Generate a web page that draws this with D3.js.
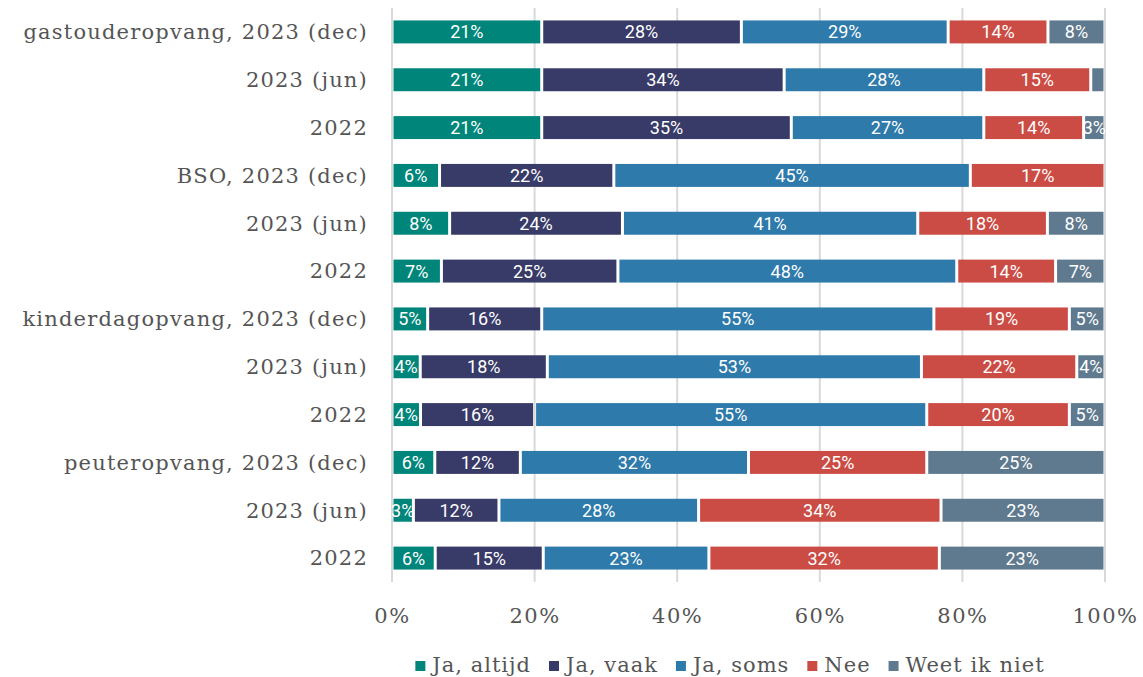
<!DOCTYPE html>
<html>
<head>
<meta charset="utf-8">
<script src="https://cdn.jsdelivr.net/npm/d3@7"></script>
<style>
  body { margin: 0; background: #fff; }
  svg { display: block; }
</style>
</head>
<body>
<div id="chart"></div>
<script>
// categorieën (van boven naar beneden)
const categories = [
  "gastouderopvang, 2023 (dec)", "2023 (jun)", "2022",
  "BSO, 2023 (dec)", "2023 (jun)", "2022",
  "kinderdagopvang, 2023 (dec)", "2023 (jun)", "2022",
  "peuteropvang, 2023 (dec)", "2023 (jun)", "2022"
];
const seriesNames = ["Ja, altijd", "Ja, vaak", "Ja, soms", "Nee", "Weet ik niet"];
const jaAltijd   = [21, 21, 21, 6, 8, 7, 5, 4, 4, 6, 3, 6];
const jaVaak     = [28, 34, 35, 22, 24, 25, 16, 18, 16, 12, 12, 15];
const jaSoms     = [29, 28, 27, 45, 41, 48, 55, 53, 55, 32, 28, 23];
const nee        = [14, 15, 14, 17, 18, 14, 19, 22, 20, 25, 34, 32];
const weetIkNiet = [8, 2, 3, 0, 8, 7, 5, 4, 5, 25, 23, 23];
const tickValues = [0, 0.2, 0.4, 0.6, 0.8, 1];
const colors = ["#00857a", "#383a68", "#2e7aab", "#cb4c44", "#5f7a8f"];

const width = 1143, height = 677;
const margin = { top: 8, left: 392, right: 38 };
const serif = "'DejaVu Serif', serif";

const rows = categories.map((c, i) => ({
  id: i, label: c,
  "Ja, altijd": jaAltijd[i], "Ja, vaak": jaVaak[i], "Ja, soms": jaSoms[i],
  "Nee": nee[i], "Weet ik niet": weetIkNiet[i]
}));

const stacked = d3.stack().keys(seriesNames).offset(d3.stackOffsetExpand)(rows);

const x = d3.scaleLinear().domain([0, 1]).range([margin.left, width - margin.right]);
const y = d3.scaleBand().domain(rows.map(d => d.id)).range([margin.top, 582]).paddingInner(0.52).paddingOuter(0.26);
const color = d3.scaleOrdinal().domain(seriesNames).range(colors);

const svg = d3.select("#chart").append("svg")
  .attr("width", width).attr("height", height);

svg.append("defs").append("clipPath").attr("id", "plotclip")
  .append("rect").attr("x", x(0)).attr("y", 0).attr("width", x(1) - x(0)).attr("height", 600);

// rasterlijnen
svg.append("g").selectAll("line").data(tickValues).join("line")
  .attr("x1", d => x(d)).attr("x2", d => x(d))
  .attr("y1", margin.top).attr("y2", 582)
  .attr("stroke", "#d9d9d9").attr("stroke-width", 2);

// balken
const layers = svg.append("g").selectAll("g").data(stacked).join("g")
  .attr("fill", d => color(d.key));

layers.selectAll("rect").data(d => d).join("rect")
  .attr("x", d => x(d[0]) + 1.5)
  .attr("y", d => y(d.data.id))
  .attr("width", d => Math.max(0, x(d[1]) - x(d[0]) - 3))
  .attr("height", y.bandwidth());

// waardelabels
const labels = svg.append("g").attr("clip-path", "url(#plotclip)");
stacked.forEach(layer => {
  labels.selectAll(null).data(layer.filter(d => d.data[layer.key] >= 3)).join("text")
    .attr("x", d => (x(d[0]) + x(d[1])) / 2)
    .attr("y", d => y(d.data.id) + y.bandwidth() / 2)
    .attr("dy", "0.36em")
    .attr("text-anchor", "middle")
    .attr("fill", "#fff")
    .style("font-family", "Roboto, sans-serif")
    .style("font-size", "18px")
    .text(d => d.data[layer.key] + "%");
});

// categorie-labels
svg.append("g").selectAll("text").data(rows).join("text")
  .attr("x", margin.left - 24)
  .attr("y", d => y(d.id) + y.bandwidth() / 2)
  .attr("dy", "0.35em")
  .attr("text-anchor", "end")
  .attr("fill", "#555")
  .style("font-family", serif)
  .style("font-size", "21px")
  .style("letter-spacing", "1.2px")
  .text(d => d.label);

// x-as
const xAxis = svg.append("g").attr("transform", "translate(0,613)")
  .call(d3.axisBottom(x).tickValues(tickValues).tickFormat(d3.format(".0%")).tickSize(0));
xAxis.select(".domain").remove();
xAxis.selectAll("text")
  .attr("dy", "0.35em")
  .attr("fill", "#555")
  .style("font-family", serif)
  .style("font-size", "21px")
  .style("letter-spacing", "1.5px");

// legenda
const legend = svg.append("g").attr("transform", "translate(0,665)");
const items = legend.selectAll("g").data(seriesNames).join("g");
items.append("rect").attr("y", -4).attr("width", 10).attr("height", 10)
  .attr("fill", d => color(d));
items.append("text").attr("x", 17).attr("dy", "0.35em")
  .attr("fill", "#555")
  .style("font-family", serif)
  .style("font-size", "21px")
  .style("letter-spacing", "1px")
  .text(d => d);
let offset = 0;
const positions = [];
items.each(function () {
  positions.push(offset);
  offset += this.getBBox().width + 18;
});
const start = 730 - (offset - 18) / 2;
items.attr("transform", (d, i) => `translate(${start + positions[i]},0)`);
</script>
</body>
</html>
